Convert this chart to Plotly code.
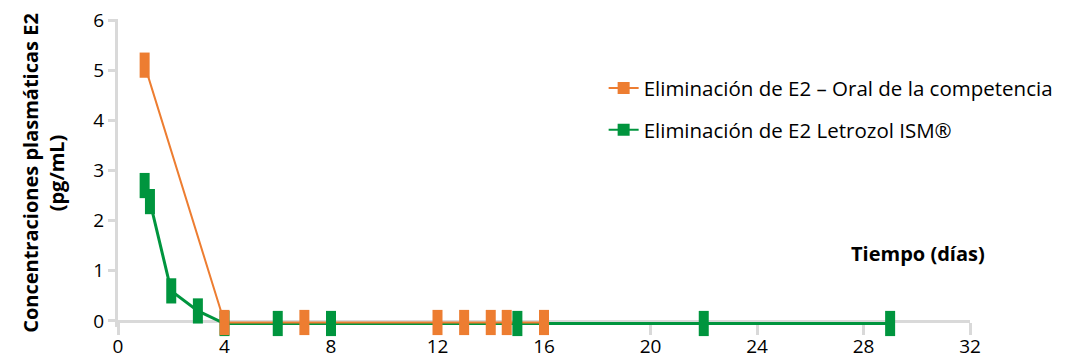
import plotly.graph_objects as go

# días / concentración E2 (pg/mL)
dias_oral = [1, 4, 7, 12, 13, 14, 14.6, 16]
e2_oral = [5.1, -0.03, -0.03, -0.03, -0.03, -0.03, -0.03, -0.03]

dias_ism = [1, 1.2, 2, 3, 4, 6, 8, 15, 22, 29]
e2_ism = [2.7, 2.38, 0.6, 0.2, -0.05, -0.05, -0.05, -0.05, -0.05, -0.05]

nombre_oral = "Eliminación de E2 – Oral de la competencia"
nombre_ism = "Eliminación de E2 Letrozol ISM®"

x_ticks = [0, 4, 8, 12, 16, 20, 24, 28, 32]
y_ticks = [0, 1, 2, 3, 4, 5, 6]

NARANJA = "#ED7D31"
VERDE = "#00953E"
GRIS = "#D9D9D9"
FUENTE = "Open Sans"

fig = go.Figure()

# lines first, both series
fig.add_trace(go.Scatter(x=dias_ism, y=e2_ism, mode="lines",
                         line=dict(color=VERDE, width=3), showlegend=False))
fig.add_trace(go.Scatter(x=dias_oral, y=e2_oral, mode="lines",
                         line=dict(color=NARANJA, width=2), showlegend=False))

# then the tall rectangular markers on top
for xs, ys, c in [(dias_ism, e2_ism, VERDE), (dias_oral, e2_oral, NARANJA)]:
    fig.add_trace(go.Scatter(
        x=xs, y=ys, mode="markers", showlegend=False, cliponaxis=False,
        marker=dict(symbol="line-ns", size=18, line=dict(color=c, width=10)),
    ))

# legend entries
fig.add_trace(go.Scatter(x=[None], y=[None], mode="lines+markers", name=nombre_oral,
                         legendgroup="a",
                         line=dict(color=NARANJA, width=2),
                         marker=dict(symbol="square", size=12, color=NARANJA)))
fig.add_trace(go.Scatter(x=[None], y=[None], mode="lines+markers", name=nombre_ism,
                         legendgroup="b",
                         line=dict(color=VERDE, width=2),
                         marker=dict(symbol="square", size=12, color=VERDE)))

fig.add_annotation(text="<b>Tiempo (días)</b>", xref="paper", yref="y",
                   x=1.02, y=1.35, xanchor="right", yanchor="middle",
                   showarrow=False, font=dict(family=FUENTE, size=20, color="black"))

# page body has an 8px margin, so the figure is 8px smaller
fig.update_layout(
    width=1061, height=350,
    margin=dict(l=110, r=99, t=11, b=31),
    paper_bgcolor="white", plot_bgcolor="white",
    font=dict(family=FUENTE, size=18, color="black"),
    legend=dict(x=0.57, y=0.84, xanchor="left", yanchor="top",
                traceorder="grouped", tracegroupgap=12,
                font=dict(family=FUENTE, size=20.5, color="black"),
                bgcolor="rgba(0,0,0,0)"),
    xaxis=dict(range=[0, 32], tickvals=x_ticks, showgrid=False, zeroline=False,
               showline=True, linecolor=GRIS, linewidth=3, layer="below traces",
               ticks="outside", ticklen=12, tickwidth=3, tickcolor=GRIS,
               anchor="free", position=0.12 / 6.14, automargin=False,
               ticklabelstandoff=-5, ticklabeloverflow="allow",
               tickfont=dict(size=19)),
    yaxis=dict(range=[-0.12, 6.02], tickvals=y_ticks, showgrid=False, zeroline=False,
               showline=True, linecolor=GRIS, linewidth=3, layer="below traces",
               ticks="outside", ticklen=7, tickwidth=3, tickcolor=GRIS,
               automargin=False, ticklabeloverflow="allow", tickfont=dict(size=19),
               title=dict(text="<b>Concentraciones plasmáticas E2<br>(pg/mL)</b>",
                          font=dict(size=20), standoff=24)),
)

fig.write_html("out.html")
